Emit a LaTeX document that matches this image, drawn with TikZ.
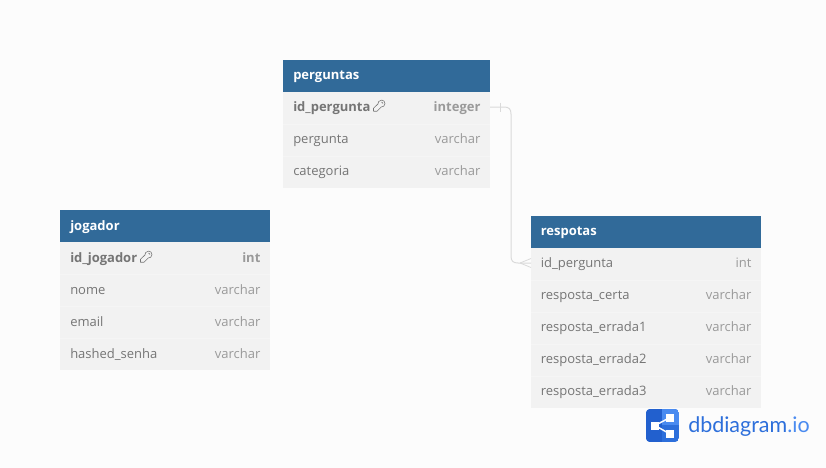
\documentclass[tikz,border=0pt]{standalone}
\usepackage{fontspec}
\setmainfont{Open Sans}
\newfontfamily\logofont{Lato}
\definecolor{pagebg}{HTML}{FCFCFC}
\definecolor{headblue}{HTML}{316A99}
\definecolor{rowbg}{HTML}{F2F2F2}
\definecolor{rowsep}{HTML}{F5F5F5}
\definecolor{nametxt}{HTML}{757575}
\definecolor{typetxt}{HTML}{9A9A9A}
\definecolor{conn}{HTML}{DADADA}
\definecolor{logoblue}{HTML}{2D6FDB}
\definecolor{logolight}{HTML}{4A8BF0}
\definecolor{logodark}{HTML}{2260CE}
\tikzset{
  x=0.75pt,y=-0.75pt,
  header/.style={fill=headblue,draw=none,anchor=north west,inner sep=0pt,outer sep=0pt,minimum height=24pt},
  row/.style={fill=rowbg,draw=none,anchor=north west,inner sep=0pt,outer sep=0pt,minimum height=24pt},
  headtxt/.style={text=white,anchor=base west,inner sep=0pt,font=\fontsize{9.75}{12}\selectfont\bfseries},
  fieldtxt/.style={text=nametxt,anchor=base west,inner sep=0pt,font=\fontsize{9.75}{12}\selectfont},
  keytxt/.style={text=nametxt,anchor=base west,inner sep=0pt,font=\fontsize{9.75}{12}\selectfont\bfseries},
  typelbl/.style={text=typetxt,anchor=base east,inner sep=0pt,font=\fontsize{9.75}{12}\selectfont},
  keytype/.style={text=typetxt,anchor=base east,inner sep=0pt,font=\fontsize{9.75}{12}\selectfont\bfseries},
  connector/.style={draw=conn,line width=0.75pt},
  keyicon/.style={draw=nametxt,line width=0.45pt,line cap=round,line join=round},
}
\newcommand{\keyglyph}[2]{%
  \begin{scope}[shift={(#1,#2)}]
    \draw[keyicon] (2.2,1) arc[start angle=95,end angle=-185,radius=3.5] -- (-5.5,2.3) -- (-5.5,5.2) -- (-2,5.2) -- cycle;
    \draw[keyicon] (2.6,-4) arc[start angle=-90,end angle=0,radius=1.4];
  \end{scope}}
\begin{document}
\begin{tikzpicture}
\useasboundingbox (0,0) rectangle (826,468);
\fill[pagebg] (0,0) rectangle (826,468);

% perguntas
\node[header,minimum width=155.25pt] (pH) at (283,60) {};
\node[row,minimum width=155.25pt] (pR1) at (283,92) {};
\node[row,minimum width=155.25pt] (pR2) at (283,124) {};
\node[row,minimum width=155.25pt] (pR3) at (283,156) {};
\node[headtxt] (pT) at (293,79) {perguntas};
\node[keytxt] (pN1) at (293,111) {id\_pergunta};
\node[keytype] (pY1) at (480.7,111) {integer};
\node[fieldtxt] (pN2) at (293,143) {pergunta};
\node[typelbl] (pY2) at (480.7,143) {varchar};
\node[fieldtxt] (pN3) at (293,175) {categoria};
\node[typelbl] (pY3) at (480.7,175) {varchar};
\keyglyph{379}{106}

% jogador
\node[header,minimum width=157.5pt] (jH) at (60,210) {};
\node[row,minimum width=157.5pt] (jR1) at (60,242) {};
\node[row,minimum width=157.5pt] (jR2) at (60,274) {};
\node[row,minimum width=157.5pt] (jR3) at (60,306) {};
\node[row,minimum width=157.5pt] (jR4) at (60,338) {};
\node[headtxt] (jT) at (70,230) {jogador};
\node[keytxt] (jN1) at (70,262) {id\_jogador};
\node[keytype] (jY1) at (260.7,262) {int};
\node[fieldtxt] (jN2) at (70,294) {nome};
\node[typelbl] (jY2) at (260.7,294) {varchar};
\node[fieldtxt] (jN3) at (70,326) {email};
\node[typelbl] (jY3) at (260.7,326) {varchar};
\node[fieldtxt] (jN4) at (70,358) {hashed\_senha};
\node[typelbl] (jY4) at (260.7,358) {varchar};
\keyglyph{146}{257}

% respotas
\node[header,minimum width=172.5pt] (rH) at (531,216) {};
\node[row,minimum width=172.5pt] (rR1) at (531,248) {};
\node[row,minimum width=172.5pt] (rR2) at (531,280) {};
\node[row,minimum width=172.5pt] (rR3) at (531,312) {};
\node[row,minimum width=172.5pt] (rR4) at (531,344) {};
\node[row,minimum width=172.5pt] (rR5) at (531,376) {};
\node[headtxt] (rT) at (540.5,235) {respotas};
\node[fieldtxt] (rN1) at (540.5,267) {id\_pergunta};
\node[typelbl] (rY1) at (751.7,267) {int};
\node[fieldtxt] (rN2) at (540.5,299) {resposta\_certa};
\node[typelbl] (rY2) at (751.7,299) {varchar};
\node[fieldtxt] (rN3) at (540.5,331) {resposta\_errada1};
\node[typelbl] (rY3) at (751.7,331) {varchar};
\node[fieldtxt] (rN4) at (540.5,363) {resposta\_errada2};
\node[typelbl] (rY4) at (751.7,363) {varchar};
\node[fieldtxt] (rN5) at (540.5,395) {resposta\_errada3};
\node[typelbl] (rY5) at (751.7,395) {varchar};

% row separators
\foreach \a in {124,156}{\draw[rowsep,line width=0.5pt] (283,\a) -- (490,\a);}
\foreach \a in {274,306,338}{\draw[rowsep,line width=0.5pt] (60,\a) -- (270,\a);}
\foreach \a in {280,312,344,376}{\draw[rowsep,line width=0.5pt] (531,\a) -- (761,\a);}

% connector
\coordinate (cA) at ([yshift=0.75pt]pR1.east);
\coordinate (cB) at ([yshift=0.75pt]rR1.west);
\draw[connector] (cA) -- (504,107) .. controls (509,107) and (511,109) .. (511,114)
  -- (511,256) .. controls (511,261) and (513,263) .. (518,263) -- (cB);
\draw[connector,line width=0.6pt] (cA) ++(10,-4.5) -- ++(0,9);
\draw[connector,line width=0.6pt] (520,263) -- (531,258.5);
\draw[connector,line width=0.6pt] (520,263) -- (531,267.5);

% logo
\begin{scope}
  \clip[rounded corners=3pt] (646,409) rectangle (679,442);
  \fill[logoblue] (646,409) rectangle (679,442);
  \fill[logodark] (646,409) rectangle (662,442);
  \fill[logolight] (662,409) rectangle (679,425);
\end{scope}
\draw[white,line width=1.1pt] (655,425.5) -- (670,417.5) (655,425.5) -- (670,434);
\fill[white] (651,422) rectangle (659,430);
\fill[white] (665.5,413.5) rectangle (673.5,421.5);
\fill[white] (665.5,430) rectangle (673.5,438);
\node[text=logoblue,anchor=base west,inner sep=0pt,font=\logofont\fontsize{16.1}{20}\selectfont] (logo) at (688,432.5) {dbdiagram\textcolor{logolight}{.io}};
\end{tikzpicture}
\end{document}
